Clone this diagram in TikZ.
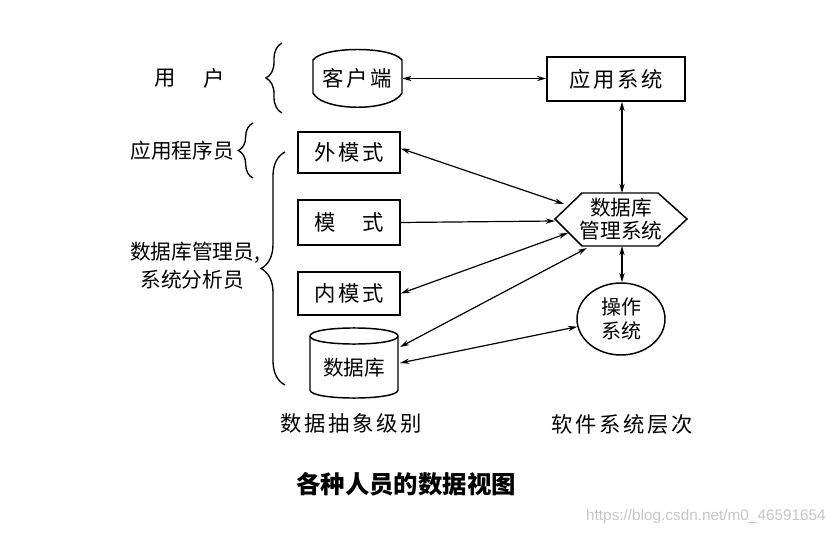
\documentclass[tikz,border=0pt]{standalone}
\usepackage{fontspec}
\usetikzlibrary{arrows.meta,decorations.pathreplacing,shapes.geometric}
\newfontfamily\cjk{Noto Sans CJK SC}
\newfontfamily\cjksp[LetterSpace=12]{Noto Sans CJK SC}
\newfontfamily\wmfont{Liberation Sans}
\newcommand\myfs[1]{\fontsize{#1}{#1}\selectfont}
\begin{document}
\begin{tikzpicture}[x=0.75pt,y=-0.75pt,
  box/.style={draw, line width=1.1pt, minimum width=76.5pt, minimum height=32pt, inner sep=0pt, font=\cjksp\myfs{16pt}},
  lbl/.style={inner sep=0pt, font=\cjk\myfs{15.5pt}},
  sptxt/.style={inner sep=0pt, font=\cjksp\myfs{16pt}},
  conn/.style={line width=0.9pt, {Stealth[length=7pt,width=4pt]}-{Stealth[length=7pt,width=4pt]}},
  connone/.style={line width=0.9pt, -{Stealth[length=7pt,width=4pt]}},
  shp/.style={line width=1.1pt},
  brc/.style={line width=1pt, decorate, decoration={brace, amplitude=#1}}]
\useasboundingbox (0,0) rectangle (836,535);
\fill[white] (0,0) rectangle (836,535);

% left labels
\node[sptxt] (yong) at (165,78) {用};
\node[sptxt] (hu) at (214,78) {户};
\node[lbl] (prog) at (182,151) {应用程序员};
\node[lbl, anchor=west] (dba) at (130,253) {数据库管理员,};
\node[lbl] (sa) at (192,280) {系统分析员};

% braces
\draw[brc=12pt] (282,113) -- (282,43);
\draw[brc=11pt] (253,178) -- (253,123);
\draw[brc=18pt] (285,385) -- (285,152);

% client shape
\draw[shp] (313,60) .. controls (323,46) and (392,46) .. (402,60) -- (402,93)
  .. controls (392,112) and (323,112) .. (313,93) -- cycle;
\node[sptxt, minimum width=66.75pt, minimum height=30pt] (client) at (357.5,78.5) {客户端};

% application system
\node[box, minimum width=103.5pt, minimum height=33pt] (app) at (616,79) {应用系统};

% schema boxes
\node[box, minimum height=30.75pt] (wai) at (349,152.5) {外模式};
\node[box, minimum height=33.75pt] (mo) at (349,222.5) {模　式};
\node[box, minimum height=32.25pt] (nei) at (349,293.5) {内模式};

% database cylinder
\draw[shp] (310,336) .. controls (310,325.3) and (398,325.3) .. (398,336)
  .. controls (398,346.7) and (310,346.7) .. (310,336);
\draw[shp] (310,336) -- (310,390) .. controls (310,400.7) and (398,400.7) .. (398,390) -- (398,336);
\node[lbl] (db) at (354,368) {数据库};
\coordinate (dbA) at (400,347);
\coordinate (dbB) at (400,363);

% DBMS hexagon
\draw[shp] (555,219) -- (582,193) -- (658,193) -- (687,219) -- (658,246) -- (582,246) -- cycle;
\node[lbl, align=center, font=\cjk\fontsize{15.5pt}{17.5pt}\selectfont] (dbms) at (621,219) {数据库\\管理系统};
\coordinate (dN) at (622,193);
\coordinate (dS) at (622,246);
\coordinate (dW) at (555,221);
\coordinate (d1) at (564,204);
\coordinate (d2) at (568,233);
\coordinate (d3) at (587,248);

% OS ellipse
\node[ellipse, draw, shp, minimum width=66pt, minimum height=54pt, inner sep=0pt, align=center,
  font=\cjk\fontsize{15pt}{18pt}\selectfont] (os) at (621,319) {操作\\系统};

% connectors
\draw[conn] (client.east) -- (client.east -| app.west);
\draw[conn] (dN |- app.south) -- (dN);
\draw[conn] ([yshift=3pt]wai.east) -- (d1);
\draw[connone] (mo.east) -- (dW);
\draw[conn] (nei.east) -- (d2);
\draw[conn] (dbA) -- (d3);
\draw[conn] (dbB) -- (os.190);
\draw[conn] (dS) -- (os.north -| dS);

% bottom labels
\node[sptxt] (abs) at (351,423) {数据抽象级别};
\node[sptxt] (soft) at (622,424) {软件系统层次};
\node[inner sep=0pt, font=\cjk\bfseries\myfs{18.3pt}] (cap) at (406,484) {各种人员的数据视图};
\node[inner sep=0pt, anchor=east, text=black!22, font=\wmfont\myfs{11.5pt}] (wm) at (826,517) {https://blog.csdn.net/m0\_46591654};
\end{tikzpicture}
\end{document}
